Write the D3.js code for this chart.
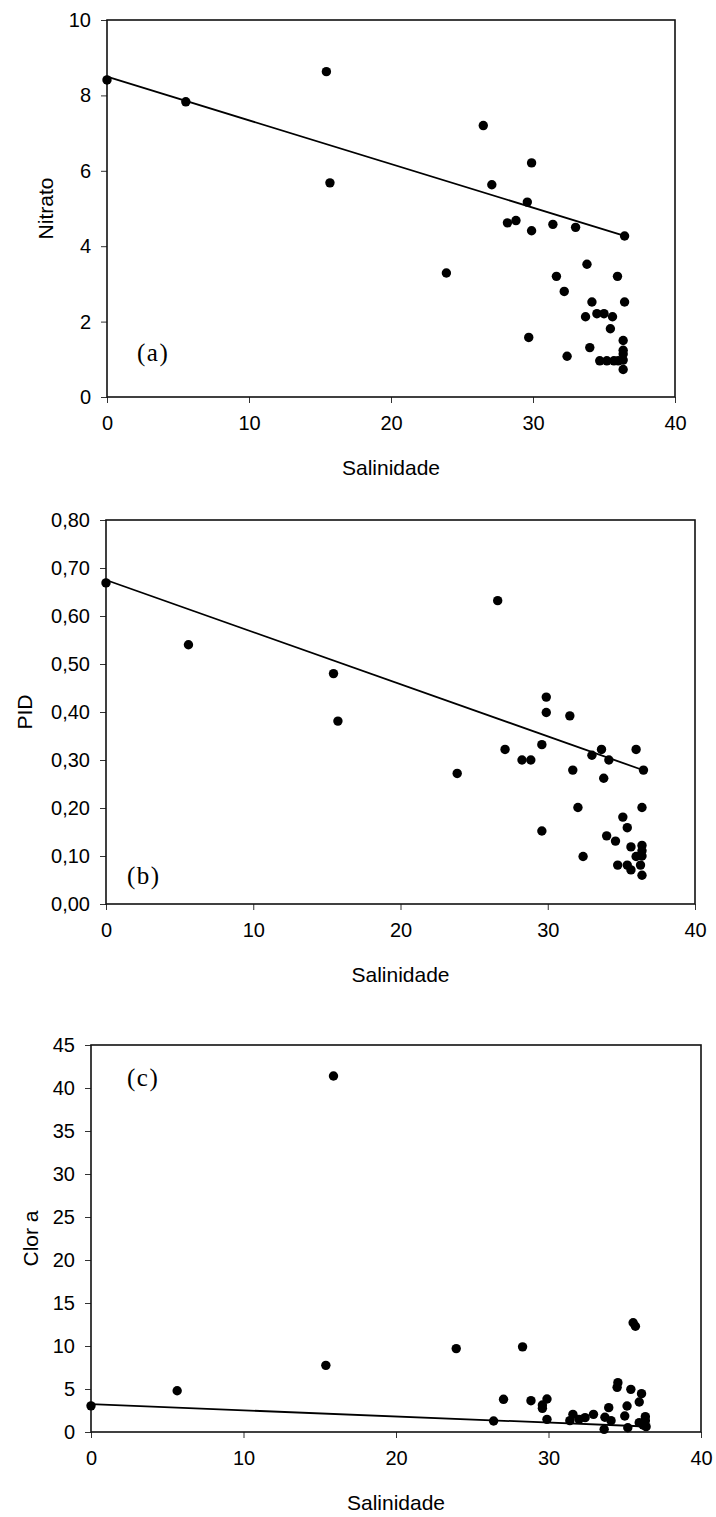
<!DOCTYPE html>
<html>
<head>
<meta charset="utf-8">
<script src="https://cdn.jsdelivr.net/npm/d3@7"></script>
<style>
  html, body { margin: 0; padding: 0; background: #fff; }
  svg { display: block; }
  text { font-family: "Liberation Sans", Arial, sans-serif; fill: #000; }
</style>
</head>
<body>
<svg id="chart" width="716" height="1517"></svg>
<script>
// ---------------- DATA ----------------
const xTicks = [0, 10, 20, 30, 40];
const xTitle = "Salinidade";

// (a) Nitrato vs Salinidade
const salA = [0, 5.55, 15.45, 15.7, 26.5, 23.9, 29.9, 27.1, 29.6, 28.2, 28.8, 29.9, 31.4, 33.0, 36.45,
  33.8, 31.65, 35.95, 32.2, 34.15, 36.45, 34.5, 35.0, 33.7, 35.6, 35.45, 29.7, 36.35, 34.0, 32.4,
  36.35, 36.35, 36.35, 34.7, 35.2, 35.7, 36.0, 36.35];
const nitrato = [8.41, 7.83, 8.63, 5.68, 7.2, 3.29, 6.21, 5.63, 5.17, 4.62, 4.68, 4.41, 4.58, 4.5, 4.27,
  3.52, 3.2, 3.2, 2.8, 2.52, 2.52, 2.21, 2.21, 2.13, 2.13, 1.81, 1.58, 1.5, 1.31, 1.08,
  1.24, 1.14, 0.98, 0.96, 0.96, 0.96, 0.96, 0.73];
const yTicksA = [0, 2, 4, 6, 8, 10];
const trendA = [8.5, -0.116];   // intercept, slope

// (b) PID vs Salinidade
const salB = [0, 5.6, 15.45, 15.75, 26.6, 23.85, 29.9, 29.9, 31.5, 27.1, 29.6, 28.25, 28.85, 33.65, 33.0,
  34.15, 36.0, 36.5, 31.7, 33.8, 32.05, 36.4, 35.1, 35.4, 29.6, 34.0, 34.6, 35.65, 36.4, 36.4,
  36.4, 36.0, 32.4, 34.75, 35.4, 35.65, 36.3, 36.4];
const pid = [0.669, 0.54, 0.48, 0.381, 0.632, 0.272, 0.431, 0.399, 0.392, 0.322, 0.332, 0.30, 0.30, 0.322, 0.31,
  0.30, 0.322, 0.279, 0.279, 0.262, 0.201, 0.201, 0.181, 0.159, 0.152, 0.142, 0.131, 0.119, 0.122, 0.111,
  0.10, 0.099, 0.099, 0.081, 0.081, 0.071, 0.081, 0.06];
const yTicksB = [0, 0.1, 0.2, 0.3, 0.4, 0.5, 0.6, 0.7, 0.8];
const trendB = [0.675, -0.01086];

// (c) Clor a vs Salinidade
const salC = [0, 5.65, 15.4, 15.9, 23.95, 28.3, 26.4, 27.05, 28.85, 29.9, 29.6, 29.6, 29.9, 31.4, 31.6,
  32.0, 32.4, 32.95, 33.7, 33.95, 34.1, 33.65, 34.55, 34.5, 35.4, 36.1, 35.95, 35.15, 35.0, 35.2,
  36.35, 36.35, 35.95, 36.4, 36.2, 35.55, 35.7];
const clorA = [3.04, 4.8, 7.75, 41.4, 9.7, 9.9, 1.28, 3.8, 3.64, 3.84, 3.14, 2.75, 1.47, 1.32, 2.05,
  1.47, 1.67, 2.05, 1.71, 2.83, 1.32, 0.31, 5.74, 5.19, 4.96, 4.46, 3.49, 3.02, 1.86, 0.5,
  1.78, 1.32, 1.09, 0.62, 0.81, 12.7, 12.3];
const yTicksC = [0, 5, 10, 15, 20, 25, 30, 35, 40, 45];
const trendC = [3.23, -0.0712];

// ---------------- DRAW ----------------
const svg = d3.select("#chart");
const commaFmt = d => d3.format(".2f")(d).replace(".", ",");

const panels = [
  { xs: salA, ys: nitrato, yTicks: yTicksA, trend: trendA, yTitle: "Nitrato", tag: "(a)",
    box: { l: 107, r: 675, t: 20, b: 397 }, yDomain: [0, 10], fmt: d3.format("d"),
    yTitleX: 53, tagPos: [137, 361] },
  { xs: salB, ys: pid, yTicks: yTicksB, trend: trendB, yTitle: "PID", tag: "(b)",
    box: { l: 106, r: 695, t: 520, b: 904 }, yDomain: [0, 0.8], fmt: commaFmt,
    yTitleX: 32, tagPos: [127, 884] },
  { xs: salC, ys: clorA, yTicks: yTicksC, trend: trendC, yTitle: "Clor a", tag: "(c)",
    box: { l: 91, r: 701, t: 1045, b: 1432 }, yDomain: [0, 45], fmt: d3.format("d"),
    yTitleX: 38, tagPos: [127, 1086] }
];

panels.forEach(p => {
  const { l, r, t, b } = p.box;
  const x = d3.scaleLinear().domain([0, 40]).range([l, r]);
  const y = d3.scaleLinear().domain(p.yDomain).range([b, t]);
  const g = svg.append("g");

  // x axis
  const xa = g.append("g").attr("transform", `translate(0,${b})`)
    .call(d3.axisBottom(x).tickValues(xTicks).tickSizeInner(6).tickSizeOuter(0).tickPadding(13).tickFormat(d3.format("d")));
  xa.select(".domain").remove();
  xa.selectAll("line").attr("stroke", "#333").attr("stroke-width", 1);
  xa.selectAll("text").attr("font-size", 20).attr("font-family", "Liberation Sans, Arial, sans-serif").attr("fill", "#000");

  // y axis
  const ya = g.append("g").attr("transform", `translate(${l},0)`)
    .call(d3.axisLeft(y).tickValues(p.yTicks).tickSizeInner(6).tickSizeOuter(0).tickPadding(10).tickFormat(p.fmt));
  ya.select(".domain").remove();
  ya.selectAll("line").attr("stroke", "#333").attr("stroke-width", 1);
  ya.selectAll("text").attr("font-size", 20).attr("font-family", "Liberation Sans, Arial, sans-serif").attr("fill", "#000");

  // frame
  g.append("rect").attr("x", l).attr("y", t).attr("width", r - l).attr("height", b - t)
    .attr("fill", "none").attr("stroke", "#111").attr("stroke-width", 1.6);

  // trend line
  const xMax = d3.max(p.xs);
  const fit = v => p.trend[0] + p.trend[1] * v;
  g.append("line")
    .attr("x1", x(0)).attr("y1", y(fit(0)))
    .attr("x2", x(xMax)).attr("y2", y(fit(xMax)))
    .attr("stroke", "#000").attr("stroke-width", 1.8);

  // points
  g.selectAll("circle.pt").data(p.xs.map((v, i) => [v, p.ys[i]])).join("circle")
    .attr("class", "pt")
    .attr("cx", d => x(d[0])).attr("cy", d => y(d[1])).attr("r", 4.7).attr("fill", "#000");

  // titles
  g.append("text").attr("x", (l + r) / 2).attr("y", b + 78).attr("text-anchor", "middle")
    .attr("font-size", 21).text(xTitle);
  g.append("text").attr("transform", `translate(${p.yTitleX},${(t + b) / 2}) rotate(-90)`)
    .attr("text-anchor", "middle").attr("font-size", 21).text(p.yTitle);

  // panel tag
  g.append("text").attr("x", p.tagPos[0]).attr("y", p.tagPos[1])
    .attr("font-family", "Liberation Serif, Times New Roman, serif")
    .style("font-family", "'Liberation Serif', 'Times New Roman', serif")
    .attr("font-size", 25).attr("letter-spacing", 1.5).text(p.tag);
});
</script>
</body>
</html>
